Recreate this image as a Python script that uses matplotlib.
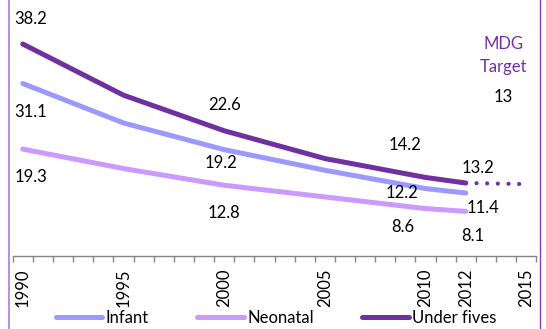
import matplotlib
matplotlib.use("Agg")
import matplotlib.pyplot as plt
from matplotlib.lines import Line2D

plt.rcParams['font.family'] = ['Lato', 'DejaVu Sans']

# mortality rates per 1000 live births
years = list(range(1990, 2016))
data_years = [1990, 1995, 2000, 2005, 2010, 2012]
infant = [31.1, 24.0, 19.2, 15.5, 12.2, 11.4]
neonatal = [19.3, 15.8, 12.8, 10.7, 8.6, 8.1]
under_fives = [38.2, 29.0, 22.6, 17.6, 14.2, 13.2]
target_years = [2012, 2015]
target_values = [13.2, 13]
mdg_target = 13
tick_years = [1990, 1995, 2000, 2005, 2010, 2012, 2015]
labelled_years = [1990, 2000, 2010, 2012]

c_infant = '#9999ff'
c_neo = '#cc99ff'
c_u5 = '#7030a0'
fs = 12

fig = plt.figure(figsize=(5.46, 3.29), dpi=100)
ax = fig.add_axes([12.7 / 546, 72.6 / 329, 523.6 / 546, 250.2 / 329])

def idx(yrs):
    return [years.index(y) for y in yrs]

lw = 3.6
ax.plot(idx(data_years), infant, color=c_infant, lw=lw, solid_capstyle='round', label='Infant')
ax.plot(idx(data_years), neonatal, color=c_neo, lw=lw, solid_capstyle='round', label='Neonatal')
ax.plot(idx(data_years), under_fives, color=c_u5, lw=lw, solid_capstyle='round', label='Under fives')
ax.plot(idx(target_years), target_values, color=c_u5, lw=3.0, linestyle=(0, (0.01, 2.55)),
        dash_capstyle='round')

# label offsets in points, one per labelled year
off_u5 = [(6, 18), (0, 18.5), (-14.8, 23.3), (8.8, 10.8)]
off_inf = [(6, -20.5), (-2.4, -9.6), (-17.1, -3.5), (12.4, -10.8)]
off_neo = [(6, -20.2), (0, -20.2), (-16.2, -13.2), (5.2, -17.7)]

for series, offs in [(under_fives, off_u5), (infant, off_inf), (neonatal, off_neo)]:
    for yr, off in zip(labelled_years, offs):
        v = series[data_years.index(yr)]
        ax.annotate(f'{v:g}', (years.index(yr), v), xytext=off, textcoords='offset points',
                    ha='center', va='center', fontsize=fs, color='black', annotation_clip=False)

ax.text(23.85, 38.2, 'MDG', ha='center', va='center', fontsize=fs, color=c_u5)
ax.text(23.85, 34.1, 'Target', ha='center', va='center', fontsize=fs, color=c_u5)
ax.text(23.85, 28.7, f'{mdg_target:g}', ha='center', va='center', fontsize=fs, color='black')

ax.set_xlim(-0.5, len(years) - 0.5)
ax.set_ylim(0, 45)
ax.set_yticks([])
for s in ['top', 'right', 'left']:
    ax.spines[s].set_visible(False)
ax.spines['bottom'].set_color('#868686')
ax.spines['bottom'].set_linewidth(1.0)

ax.set_xticks(idx(tick_years))
ax.set_xticklabels([str(y) for y in tick_years], rotation=90, fontsize=fs)
ax.set_xticks([i - 0.5 for i in range(len(years) + 1)], minor=True)
ax.tick_params(axis='x', which='major', length=0, pad=8.5)
ax.tick_params(axis='x', which='minor', length=4, color='#868686', width=1.0, direction='out')

fig.legend(loc='center', bbox_to_anchor=(276 / 546, 1 - 318 / 329), ncol=3, frameon=False,
           fontsize=fs, handlelength=2.8, handletextpad=0.2, columnspacing=2.9,
           borderpad=0, borderaxespad=0)

fig.add_artist(Line2D([9 / 546, 9 / 546], [0, 1], color='#a97fca', lw=1.2))
fig.add_artist(Line2D([540.3 / 546, 540.3 / 546], [0, 1], color='#7f3fbf', lw=1.0))

fig.savefig('out.png', dpi=100)
